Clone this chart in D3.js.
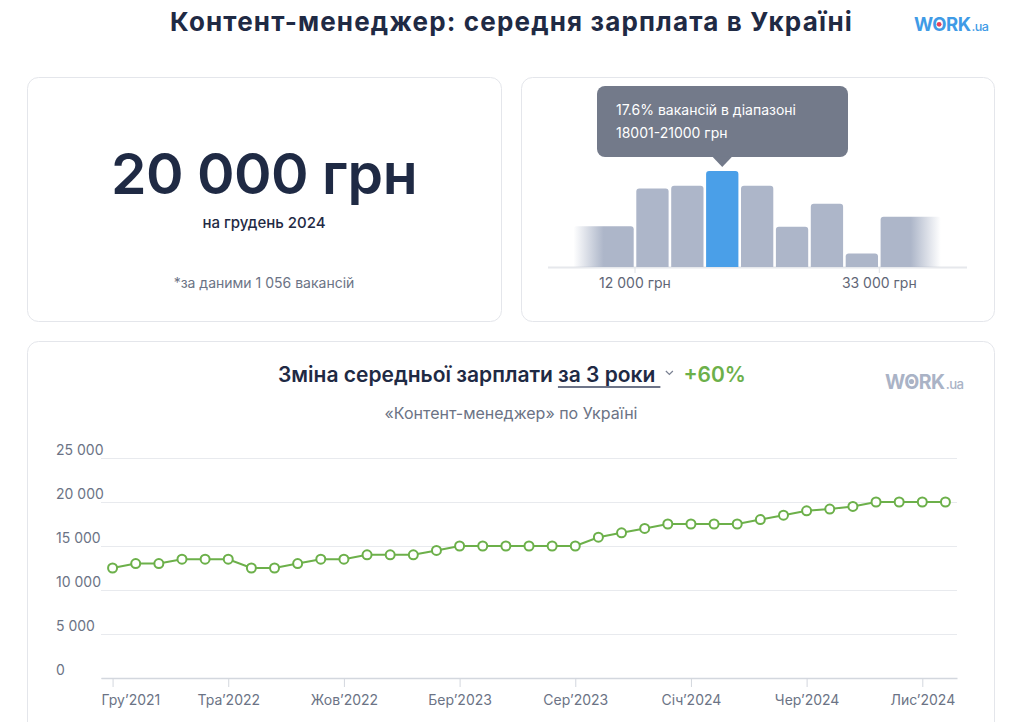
<!DOCTYPE html>
<html>
<head>
<meta charset="utf-8">
<title>Контент-менеджер: середня зарплата в Україні</title>
<script src="https://cdn.jsdelivr.net/npm/d3@7"></script>
<style>
  html, body { margin: 0; padding: 0; background: #fff; }
  svg { display: block; font-family: Inter, "Noto Sans", sans-serif; }
</style>
</head>
<body>
<svg id="chart" width="1024" height="722"></svg>
<script>
// ---- data ----
var months = [
  "Гру’2021","Січ’2022","Лют’2022","Бер’2022","Кві’2022","Тра’2022","Чер’2022","Лип’2022","Сер’2022","Вер’2022","Жов’2022","Лис’2022",
  "Гру’2022","Січ’2023","Лют’2023","Бер’2023","Кві’2023","Тра’2023","Чер’2023","Лип’2023","Сер’2023","Вер’2023","Жов’2023","Лис’2023",
  "Гру’2023","Січ’2024","Лют’2024","Бер’2024","Кві’2024","Тра’2024","Чер’2024","Лип’2024","Сер’2024","Вер’2024","Жов’2024","Лис’2024","Гру’2024"
];
var salary = [
  12500,13000,13000,13500,13500,13500,12500,12500,13000,13500,13500,14000,
  14000,14000,14500,15000,15000,15000,15000,15000,15000,16000,16500,17000,
  17500,17500,17500,17500,18000,18500,19000,19200,19500,20000,20000,20000,20000
];
var xTickMonths = ["Гру’2021","Тра’2022","Жов’2022","Бер’2023","Сер’2023","Січ’2024","Чер’2024","Лис’2024"];
var yTicks = [0, 5000, 10000, 15000, 20000, 25000];

// histogram: bin edges in UAH (open-ended bins drawn wider), share of vacancies in %
var histEdges = [6600, 12000, 15000, 18000, 21000, 24000, 27000, 30000, 33000, 38400];
var histShare = [7.5, 14.4, 14.9, 17.6, 14.9, 7.4, 11.6, 2.5, 9.2];
var histActive = 3;
var histTicks = [12000, 33000];

var fmt = d3.formatLocale({ decimal: ",", thousands: " ", grouping: [3], currency: ["", " грн"] }).format(",d");

var svg = d3.select("#chart");
var dark = "#1f2a44", gray = "#6b7385", green = "#6cb04a";

// ---- cards ----
var cards = [[27.5, 77.5, 474, 244], [521.5, 77.5, 473, 244], [27.5, 341.5, 967, 420]];
svg.selectAll("rect.card").data(cards).enter().append("rect")
  .attr("class", "card")
  .attr("x", d => d[0]).attr("y", d => d[1]).attr("width", d => d[2]).attr("height", d => d[3])
  .attr("rx", 11).attr("fill", "#fff").attr("stroke", "#e4e6eb").attr("stroke-width", 1);

// ---- title ----
var title = svg.append("text").attr("x", 511).attr("y", 31).attr("text-anchor", "middle")
  .attr("font-size", 26).attr("font-weight", 700).attr("fill", dark)
  .text("Контент-менеджер: середня зарплата в Україні");
// stretch to the reference width
var tw = title.node().getComputedTextLength();
var tn = title.text().length;
var ls = Math.max(0, (683 - tw) / tn);
title.attr("letter-spacing", ls).attr("x", 511 + ls / 2);

function logo(x, y, size, color, dot) {
  var t = svg.append("text").attr("x", x).attr("y", y).attr("font-size", size)
    .attr("font-weight", 700).attr("fill", color).attr("letter-spacing", -0.5);
  t.append("tspan").text("WORK");
  t.append("tspan").attr("font-size", size * 0.68).attr("font-weight", 500).attr("dx", 1).text(".ua");
  var box = t.node().getExtentOfChar(1);
  svg.append("circle").attr("cx", box.x + box.width / 2).attr("cy", y - size * 0.36)
    .attr("r", size * 0.13).attr("fill", dot);
}
logo(914, 31, 18.5, "#3f9be6", "#e8405a");

// ---- left card ----
svg.append("text").attr("x", 264).attr("y", 194).attr("text-anchor", "middle")
  .attr("font-size", 57).attr("font-weight", 600).attr("fill", dark).attr("letter-spacing", -0.5)
  .text("20 000 грн");
svg.append("text").attr("x", 264).attr("y", 228).attr("text-anchor", "middle")
  .attr("font-size", 15).attr("font-weight", 500).attr("fill", dark)
  .text("на грудень 2024");
svg.append("text").attr("x", 264).attr("y", 288).attr("text-anchor", "middle")
  .attr("font-size", 14).attr("fill", gray)
  .text("*за даними 1 056 вакансій");

// ---- histogram ----
var hx = d3.scaleLinear().domain([12000, 33000]).range([635, 879.3]);
var hy = d3.scaleLinear().domain([0, 20]).range([267, 158]);
var barGray = "#adb6c9", barBlue = "#4a9fe8";

var defs = svg.append("defs");
var gl = defs.append("linearGradient").attr("id", "fadeL");
gl.append("stop").attr("offset", "0%").attr("stop-color", barGray).attr("stop-opacity", 0);
gl.append("stop").attr("offset", "50%").attr("stop-color", barGray).attr("stop-opacity", 1);
var gr = defs.append("linearGradient").attr("id", "fadeR");
gr.append("stop").attr("offset", "50%").attr("stop-color", barGray).attr("stop-opacity", 1);
gr.append("stop").attr("offset", "100%").attr("stop-color", barGray).attr("stop-opacity", 0);

var bins = histShare.map((v, i) => ({ lo: histEdges[i], hi: histEdges[i + 1], v: v, i: i }));

svg.append("line").attr("x1", 548).attr("x2", 967).attr("y1", 267.5).attr("y2", 267.5)
  .attr("stroke", "#e6e8ec").attr("stroke-width", 2);

svg.append("g").selectAll("path").data(bins).enter().append("path")
  .attr("d", function (d) {
    var x0 = hx(d.lo) + 1.3, x1 = hx(d.hi) - 1.3, y0 = hy(0), y1 = hy(d.v), r = 3;
    return "M" + x0 + "," + y0 + "V" + (y1 + r) + "Q" + x0 + "," + y1 + " " + (x0 + r) + "," + y1 +
      "H" + (x1 - r) + "Q" + x1 + "," + y1 + " " + x1 + "," + (y1 + r) + "V" + y0 + "Z";
  })
  .attr("fill", function (d) {
    if (d.i === histActive) return barBlue;
    if (d.i === 0) return "url(#fadeL)";
    if (d.i === bins.length - 1) return "url(#fadeR)";
    return barGray;
  });

svg.append("g").selectAll("line").data(histTicks).enter().append("line")
  .attr("x1", d => hx(d)).attr("x2", d => hx(d)).attr("y1", 267).attr("y2", 273)
  .attr("stroke", "#dfe2e7").attr("stroke-width", 1);
svg.append("g").selectAll("text").data(histTicks).enter().append("text")
  .attr("x", d => hx(d)).attr("y", 288).attr("text-anchor", "middle")
  .attr("font-size", 14).attr("fill", "#5f6676")
  .text(d => fmt(d) + " грн");

// tooltip
var act = bins[histActive];
var tipX = (hx(act.lo) + hx(act.hi)) / 2;
var tipTop = hy(act.v) - 4;
var tip = svg.append("g");
tip.append("rect").attr("x", 597).attr("y", 86).attr("width", 251).attr("height", 71)
  .attr("rx", 8).attr("fill", "#737a8a");
tip.append("path").attr("d", "M" + (tipX - 10) + ",156.5L" + tipX + "," + tipTop + "L" + (tipX + 10) + ",156.5Z")
  .attr("fill", "#737a8a");
tip.append("text").attr("x", 616).attr("y", 115).attr("font-size", 14).attr("fill", "#fff")
  .text(act.v.toFixed(1) + "% вакансій в діапазоні");
tip.append("text").attr("x", 616).attr("y", 138).attr("font-size", 14).attr("fill", "#fff")
  .text((act.lo + 1) + "-" + act.hi + " грн");

// ---- line chart header ----
var h1 = svg.append("text").attr("x", 278).attr("y", 382).attr("font-size", 21)
  .attr("font-weight", 600).attr("fill", dark).text("Зміна середньої зарплати");
var w1 = h1.node().getComputedTextLength();
var h2 = svg.append("text").attr("x", 278 + w1 + 5).attr("y", 382).attr("font-size", 21)
  .attr("font-weight", 600).attr("fill", dark).text("за 3 роки");
var x2 = 278 + w1 + 5, w2 = h2.node().getComputedTextLength();
svg.append("line").attr("x1", x2).attr("x2", x2 + w2 + 5).attr("y1", 387).attr("y2", 387)
  .attr("stroke", "#3c4660").attr("stroke-width", 1.5);
var cx = x2 + w2 + 14;
svg.append("path").attr("d", "M" + (cx - 3.5) + ",371L" + cx + ",374.5L" + (cx + 3.5) + ",371")
  .attr("fill", "none").attr("stroke", "#7a8192").attr("stroke-width", 1.2);
var growth = Math.round((salary[salary.length - 1] / salary[0] - 1) * 100);
svg.append("text").attr("x", cx + 14).attr("y", 382).attr("font-size", 21)
  .attr("font-weight", 600).attr("fill", green).text("+" + growth + "%");
logo(885, 388.5, 19.5, "#aab3c6", "#aab3c6");

svg.append("text").attr("x", 511).attr("y", 419).attr("text-anchor", "middle")
  .attr("font-size", 16).attr("fill", gray).text("«Контент-менеджер» по Україні");

// ---- line chart ----
var x = d3.scalePoint().domain(months).range([101, 957]).padding(0.5);
var y = d3.scaleLinear().domain([0, 25000]).range([678, 458]);

var yAxis = svg.append("g").attr("transform", "translate(101,0)")
  .call(d3.axisLeft(y).tickValues(yTicks).tickSize(-856).tickFormat(fmt));
yAxis.select(".domain").remove();
yAxis.selectAll(".tick line").attr("stroke", "#e8eaee").attr("stroke-width", 1.2);
yAxis.selectAll(".tick text").attr("x", -45).attr("dy", -4).attr("text-anchor", "start")
  .attr("font-size", 14).attr("font-family", "Inter, sans-serif").attr("fill", gray);

var xAxis = svg.append("g").attr("transform", "translate(0,678)")
  .call(d3.axisBottom(x).tickValues(xTickMonths).tickSize(9).tickSizeOuter(0).tickPadding(8));
xAxis.select(".domain").attr("stroke", "#d3d7de").attr("stroke-width", 1.5);
xAxis.selectAll(".tick line").attr("stroke", "#d3d7de");
xAxis.selectAll(".tick text").attr("font-size", 14).attr("font-family", "Inter, sans-serif").attr("fill", gray);
// first label is kept inside the plot area
xAxis.selectAll(".tick text").filter((d, i) => i === 0)
  .attr("text-anchor", "start").attr("x", 101 - x(months[0]));

var pts = months.map((m, i) => ({ m: m, v: salary[i] }));
svg.append("path").datum(pts)
  .attr("d", d3.line().x(d => x(d.m)).y(d => y(d.v)))
  .attr("fill", "none").attr("stroke", green).attr("stroke-width", 2);
svg.append("g").selectAll("circle").data(pts).enter().append("circle")
  .attr("cx", d => x(d.m)).attr("cy", d => y(d.v)).attr("r", 4.5)
  .attr("fill", "#fff").attr("stroke", green).attr("stroke-width", 2);
</script>
</body>
</html>
